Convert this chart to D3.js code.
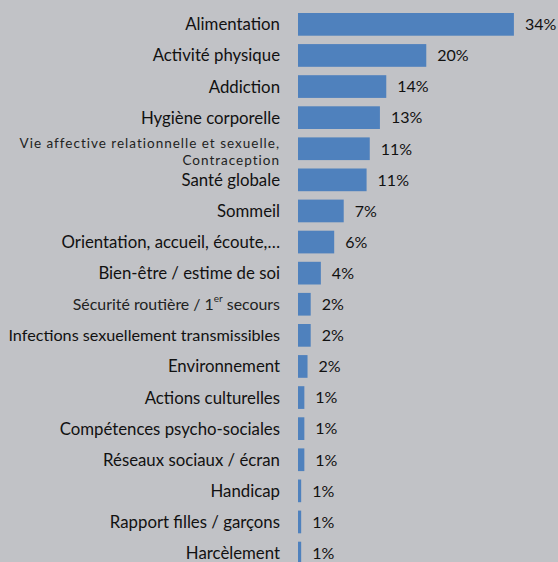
<!DOCTYPE html>
<html>
<head>
<meta charset="utf-8">
<script src="https://cdn.jsdelivr.net/npm/d3@7"></script>
<style>
  body { margin: 0; background: #c1c2c6; }
  svg { display: block; font-family: Lato, "Open Sans", sans-serif; }
</style>
</head>
<body>
<svg id="chart" width="558" height="562"></svg>
<script>
const categories = [
  "Alimentation",
  "Activité physique",
  "Addiction",
  "Hygiène corporelle",
  "Vie affective relationnelle et sexuelle,\nContraception",
  "Santé globale",
  "Sommeil",
  "Orientation, accueil, écoute,…",
  "Bien-être / estime de soi",
  "Sécurité routière / 1er secours",
  "Infections sexuellement transmissibles",
  "Environnement",
  "Actions culturelles",
  "Compétences psycho-sociales",
  "Réseaux sociaux / écran",
  "Handicap",
  "Rapport filles / garçons",
  "Harcèlement"
]

const values = [34.0, 20.2, 13.9, 12.9, 11.3, 10.8, 7.2, 5.7, 3.6, 2.0, 2.0, 1.5, 1.0, 1.0, 1.0, 0.5, 0.5, 0.5]

const valueLabels = ["34%", "20%", "14%", "13%", "11%", "11%", "7%", "6%", "4%", "2%", "2%", "2%", "1%", "1%", "1%", "1%", "1%", "1%"]

const rows = categories.map((c, i) => ({ name: c, value: values[i], label: valueLabels[i] }))

const svg = d3.select("#chart")

const x = d3.scaleLinear()
            .domain([0, 40])
            .range([298, 298 + 254])

const y = d3.scaleBand()
            .domain(categories)
            .range([8.8, 568.6])
            .paddingInner(0.27)
            .paddingOuter(0.135)

svg.selectAll("rect.bar")
   .data(rows)
   .enter()
   .append("rect")
   .attr("class", "bar")
   .attr("x", x(0))
   .attr("y", d => y(d.name))
   .attr("width", d => x(d.value) - x(0))
   .attr("height", y.bandwidth())
   .attr("fill", "#4f81bd")

// value labels
svg.selectAll("text.val")
   .data(rows)
   .enter()
   .append("text")
   .attr("class", "val")
   .attr("x", d => x(d.value) + 11)
   .attr("y", d => y(d.name) + y.bandwidth() / 2)
   .attr("dy", "0.36em")
   .attr("font-size", 16)
   .attr("fill", "#111")
   .text(d => d.label)

// category labels (right aligned)
const labels = svg.selectAll("text.cat")
   .data(rows)
   .enter()
   .append("text")
   .attr("class", "cat")
   .attr("text-anchor", "end")
   .attr("fill", "#111")
   .attr("font-size", d => {
     if (d.name.includes("\n")) return 13.5
     if (d.name.startsWith("Sécurité")) return 15.9
     if (d.name.startsWith("Infections")) return 16.2
     return 16.8
   })
   .attr("y", d => y(d.name) + y.bandwidth() / 2)

labels.each(function(d) {
  const t = d3.select(this)
  const lines = d.name.split("\n")
  const cy = y(d.name) + y.bandwidth() / 2
  if (lines.length > 1) {
    // two-line label, a bit smaller and spaced out like the original
    t.attr("fill", "#222").attr("letter-spacing", 1)
    lines.forEach((ln, k) => {
      t.append("tspan")
       .attr("x", 280)
       .attr("y", k == 0 ? cy - 0.5 : cy + 15.8)
       .text(ln)
    })
  } else if (d.name.includes("1er")) {
    const parts = d.name.split("1er")
    t.attr("x", 280).attr("dy", "0.36em").attr("fill", "#222")
    t.append("tspan").text(parts[0] + "1")
    t.append("tspan").attr("font-size", 10).attr("dy", "-0.75em").text("er")
    t.append("tspan").attr("dy", "0.48em").text(" " + parts[1].trim())
  } else {
    t.attr("x", 280).attr("dy", "0.36em").text(d.name)
  }
})
</script>
</body>
</html>
